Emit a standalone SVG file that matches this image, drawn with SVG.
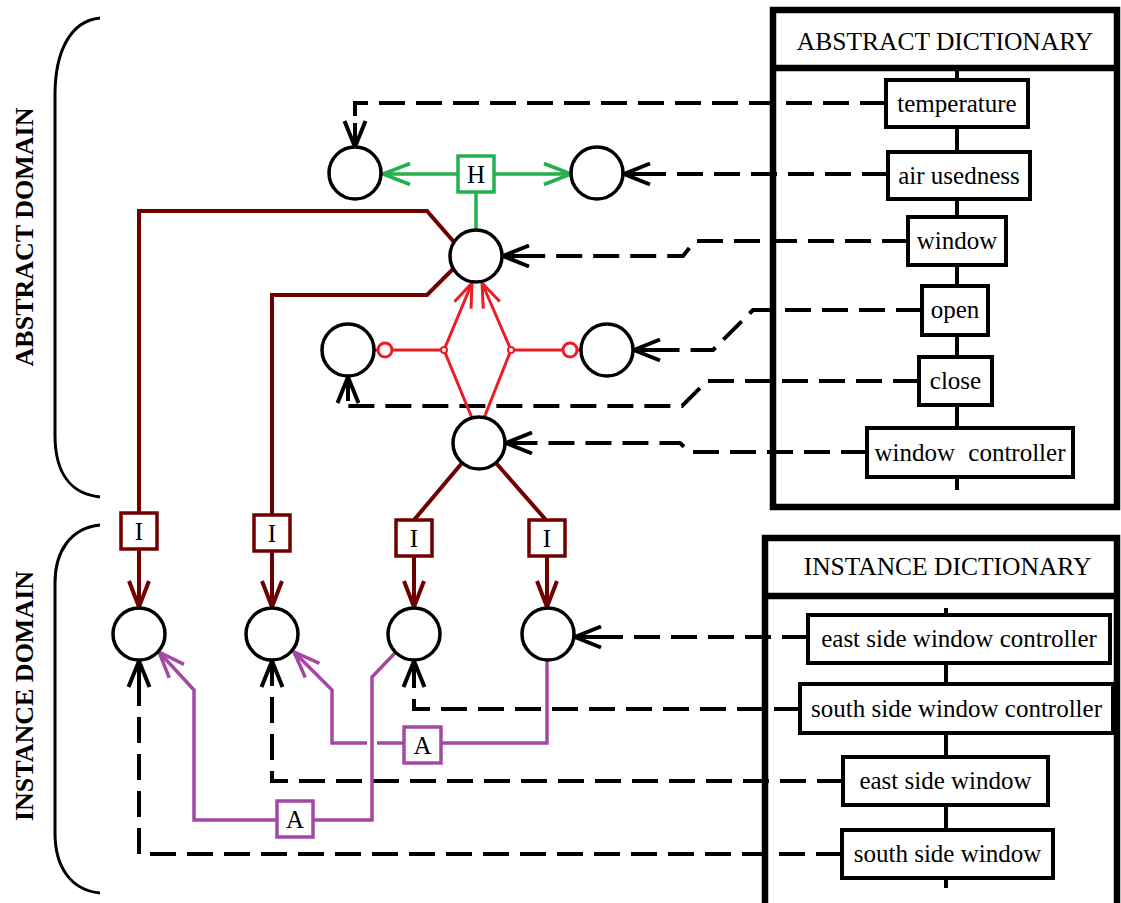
<svg xmlns="http://www.w3.org/2000/svg" width="1121" height="903" viewBox="0 0 1121 903">
<style>
.bg{fill:#fff}
.node{fill:#fff;stroke:#000;stroke-width:3.5}
.dash{fill:none;stroke:#000;stroke-width:4;stroke-dasharray:26 11}
.brown{fill:none;stroke:#700000;stroke-width:4}
.green{fill:none;stroke:#22b14c;stroke-width:3.5}
.red{fill:none;stroke:#ed1c24;stroke-width:3}
.purple{fill:none;stroke:#a349a4;stroke-width:3.5}
.lbl{font-family:"Liberation Serif","Times New Roman",serif;font-size:25px;fill:#000;text-anchor:middle}
.hdr{font-family:"Liberation Serif","Times New Roman",serif;font-size:25.5px;fill:#000;text-anchor:middle}
.dom{font-family:"Liberation Serif","Times New Roman",serif;font-size:26px;font-weight:bold;fill:#000;text-anchor:middle}
.dbox{fill:#fff;stroke:#000;stroke-width:4}
.frame{fill:#fff;stroke:#000;stroke-width:6.5}
.tree{stroke:#000;stroke-width:4;fill:none}
</style>
<defs>
<marker id="ak" markerUnits="userSpaceOnUse" orient="auto" overflow="visible" markerWidth="1" markerHeight="1"><path d="M-26,-10.5 L0,0 L-26,10.5 M-24,0 L0,0" fill="none" stroke="#000" stroke-width="4" stroke-dasharray="none"/></marker>
<marker id="ab" markerUnits="userSpaceOnUse" orient="auto" overflow="visible" markerWidth="1" markerHeight="1"><path d="M-26,-10 L0,0 L-26,10" fill="none" stroke="#700000" stroke-width="4"/></marker>
<marker id="ag" markerUnits="userSpaceOnUse" orient="auto" overflow="visible" markerWidth="1" markerHeight="1"><path d="M-27,-10.5 L0,0 L-27,10.5" fill="none" stroke="#22b14c" stroke-width="3.5"/></marker>
<marker id="ar" markerUnits="userSpaceOnUse" orient="auto" overflow="visible" markerWidth="1" markerHeight="1"><path d="M-24,-9 L0,0 L-24,9" fill="none" stroke="#ed1c24" stroke-width="3"/></marker>
<marker id="ap" markerUnits="userSpaceOnUse" orient="auto" overflow="visible" markerWidth="1" markerHeight="1"><path d="M-26,-10 L0,0 L-26,10" fill="none" stroke="#a349a4" stroke-width="3.5"/></marker>
</defs>
<rect class="bg" x="0" y="0" width="1121" height="903"/>

<!-- domains -->
<g id="abstract-domain">
<path d="M100,18 C70,21 55,52 55,95 V435 C55,472 70,494 100,497" fill="none" stroke="#000" stroke-width="3"/>
<text class="dom" transform="translate(33,237) rotate(-90)">ABSTRACT DOMAIN</text>
</g>
<g id="instance-domain">
<path d="M100,525 C70,528 55,552 55,583 V833 C55,866 70,890 100,893" fill="none" stroke="#000" stroke-width="3"/>
<text class="dom" transform="translate(33,696) rotate(-90)">INSTANCE DOMAIN</text>
</g>

<!-- abstract dictionary -->
<g id="abstract-dictionary">
<rect class="frame" x="773" y="10" width="344" height="497"/>
<line x1="773" y1="68" x2="1117" y2="68" stroke="#000" stroke-width="6.5"/>
<text class="hdr" x="945" y="50">ABSTRACT DICTIONARY</text>
<line class="tree" x1="957" y1="70" x2="957" y2="490"/>
<g id="d-temperature"><rect class="dbox" x="886" y="80" width="142" height="47"/><text class="lbl" x="957" y="112">temperature</text></g>
<g id="d-air"><rect class="dbox" x="888" y="152" width="142" height="47"/><text class="lbl" x="959" y="184">air usedness</text></g>
<g id="d-window"><rect class="dbox" x="908" y="217" width="98" height="48"/><text class="lbl" x="957" y="249">window</text></g>
<g id="d-open"><rect class="dbox" x="922" y="286" width="66" height="49"/><text class="lbl" x="955" y="318">open</text></g>
<g id="d-close"><rect class="dbox" x="919" y="357" width="73" height="48"/><text class="lbl" x="955.5" y="389">close</text></g>
<g id="d-wc"><rect class="dbox" x="867" y="428" width="206" height="49"/><text class="lbl" x="970" y="461" word-spacing="7">window controller</text></g>
</g>

<!-- instance dictionary -->
<g id="instance-dictionary">
<rect class="frame" x="765" y="538" width="352" height="372"/>
<line x1="765" y1="596" x2="1117" y2="596" stroke="#000" stroke-width="6.5"/>
<text class="hdr" x="947.5" y="575">INSTANCE DICTIONARY</text>
<line class="tree" x1="946" y1="608" x2="946" y2="888"/>
<g id="d-eswc"><rect class="dbox" x="808" y="615" width="302" height="48"/><text class="lbl" x="959" y="647">east side window controller</text></g>
<g id="d-sswc"><rect class="dbox" x="800" y="684" width="313" height="49"/><text class="lbl" x="956.5" y="717">south side window controller</text></g>
<g id="d-esw"><rect class="dbox" x="843" y="757" width="205" height="48"/><text class="lbl" x="945.5" y="789">east side window</text></g>
<g id="d-ssw"><rect class="dbox" x="842" y="830" width="211" height="48"/><text class="lbl" x="947.5" y="862">south side window</text></g>
</g>

<!-- connectors -->
<g id="connectors">
<!-- dashed dictionary links -->
<path class="dash" d="M886,103 H355 V147" marker-end="url(#ak)"/>
<path class="dash" d="M888,174 H624" marker-end="url(#ak)"/>
<path class="dash" d="M908,241 H695 L683,256 H503" marker-end="url(#ak)"/>
<path class="dash" d="M922,310 H753 L713,350 H634" marker-end="url(#ak)"/>
<path class="dash" d="M919,381 H707 L682,406 H348 V377" marker-end="url(#ak)"/>
<path class="dash" d="M867,452 H690 L680,443 H506" marker-end="url(#ak)"/>
<path class="dash" d="M808,637 H575" marker-end="url(#ak)"/>
<path class="dash" d="M800,709 H414 V661" marker-end="url(#ak)"/>
<path class="dash" d="M843,781 H272 V661" marker-end="url(#ak)"/>
<path class="dash" d="M842,854 H139 V661" marker-end="url(#ak)"/>
<!-- green H -->
<path class="green" d="M458,174 H383" marker-end="url(#ag)"/>
<path class="green" d="M494,174 H571" marker-end="url(#ag)"/>
<path class="green" d="M476,192 V230"/>
<!-- red -->
<path class="red" d="M472,418 L444,350 L472,283" marker-end="url(#ar)"/>
<path class="red" d="M484,418 L511,350 L482,283" marker-end="url(#ar)"/>
<path class="red" d="M444,350 H392 M378,350 H375"/>
<path class="red" d="M511,350 H563 M577,350 H581"/>
<circle cx="385" cy="350" r="7" fill="#fff" stroke="#ed1c24" stroke-width="3"/>
<circle cx="570" cy="350" r="7" fill="#fff" stroke="#ed1c24" stroke-width="3"/>
<circle cx="444" cy="350" r="3" fill="#fff" stroke="#ed1c24" stroke-width="2"/>
<circle cx="511" cy="350" r="3" fill="#fff" stroke="#ed1c24" stroke-width="2"/>
<!-- brown I links -->
<path class="brown" d="M454,242 L427,211 H139 V513"/>
<path class="brown" d="M453,269 L427,295 H272 V515"/>
<path class="brown" d="M462,463 L414,520"/>
<path class="brown" d="M496,463 L546,520"/>
<path class="brown" d="M139,549 V607" marker-end="url(#ab)"/>
<path class="brown" d="M272,551 V607" marker-end="url(#ab)"/>
<path class="brown" d="M414,556 V607" marker-end="url(#ab)"/>
<path class="brown" d="M547,556 V607" marker-end="url(#ab)"/>
<!-- purple A links -->
<path class="purple" d="M547,660 V743 H441"/>
<path class="purple" d="M404,743 H377 M367,743 H332 V690 L294,652" marker-end="url(#ap)"/>
<path class="purple" d="M395,653 L372,677 V820 H313"/>
<path class="purple" d="M277,820 H194 V690 L159,652" marker-end="url(#ap)"/>
</g>

<!-- relation boxes -->
<g id="rel-H"><rect x="458" y="156" width="36" height="36" fill="#fff" stroke="#22b14c" stroke-width="3.5"/><text class="lbl" x="476" y="183">H</text></g>
<g id="rel-I1"><rect x="121" y="513" width="36" height="36" fill="#fff" stroke="#700000" stroke-width="3.5"/><text class="lbl" x="139" y="540" font-size="23">I</text></g>
<g id="rel-I2"><rect x="254" y="515" width="36" height="36" fill="#fff" stroke="#700000" stroke-width="3.5"/><text class="lbl" x="272" y="542" font-size="23">I</text></g>
<g id="rel-I3"><rect x="396" y="520" width="36" height="36" fill="#fff" stroke="#700000" stroke-width="3.5"/><text class="lbl" x="414" y="547" font-size="23">I</text></g>
<g id="rel-I4"><rect x="529" y="520" width="36" height="36" fill="#fff" stroke="#700000" stroke-width="3.5"/><text class="lbl" x="547" y="547" font-size="23">I</text></g>
<g id="rel-A1"><rect x="404" y="727" width="37" height="36" fill="#fff" stroke="#a349a4" stroke-width="3.5"/><text class="lbl" x="422.5" y="754">A</text></g>
<g id="rel-A2"><rect x="277" y="801" width="36" height="36" fill="#fff" stroke="#a349a4" stroke-width="3.5"/><text class="lbl" x="295" y="828">A</text></g>

<!-- concept nodes -->
<g id="n-temperature"><circle class="node" cx="355" cy="173" r="26"/></g>
<g id="n-air"><circle class="node" cx="597" cy="173" r="26"/></g>
<g id="n-window"><circle class="node" cx="476" cy="256" r="26"/></g>
<g id="n-open"><circle class="node" cx="348" cy="350" r="26"/></g>
<g id="n-close"><circle class="node" cx="607" cy="350" r="26"/></g>
<g id="n-wc"><circle class="node" cx="479" cy="443" r="26"/></g>
<g id="n-ssw"><circle class="node" cx="139" cy="634" r="26"/></g>
<g id="n-esw"><circle class="node" cx="272" cy="634" r="26"/></g>
<g id="n-sswc"><circle class="node" cx="414" cy="634" r="26"/></g>
<g id="n-eswc"><circle class="node" cx="548" cy="634" r="26"/></g>
</svg>
